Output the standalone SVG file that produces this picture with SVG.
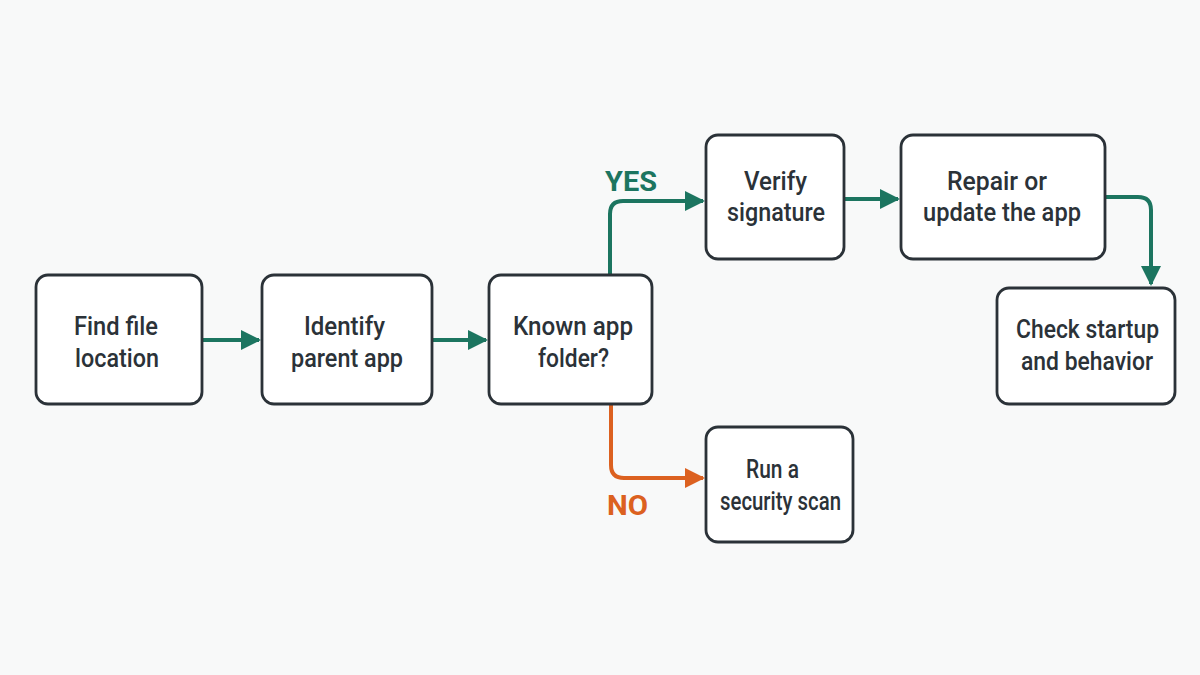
<svg xmlns="http://www.w3.org/2000/svg" width="1200" height="675" viewBox="0 0 1200 675">
<style>
.box{fill:#ffffff;stroke:#2b3238;stroke-width:2.8}
.t{font-family:Roboto,"Liberation Sans",sans-serif;font-weight:500;font-size:26px;fill:#2b3238;text-anchor:middle}
.g{fill:none;stroke:#1c7560;stroke-width:4}
.o{fill:none;stroke:#dc6120;stroke-width:4}
.lbl{font-family:Roboto,"Liberation Sans",sans-serif;font-weight:700;font-size:28px;text-anchor:middle}
</style>
<defs>
<marker id="ag" viewBox="0 0 10 10" refX="9" refY="5" markerWidth="5" markerHeight="5" markerUnits="strokeWidth" orient="auto"><path d="M0,0 L10,5 L0,10 Z" fill="#1c7560"/></marker>
<marker id="ao" viewBox="0 0 10 10" refX="9" refY="5" markerWidth="5" markerHeight="5" markerUnits="strokeWidth" orient="auto"><path d="M0,0 L10,5 L0,10 Z" fill="#dc6120"/></marker>
</defs>
<rect width="1200" height="675" fill="#f8f9f9"/>
<g id="connectors">
<path class="g" d="M202,340 H259" marker-end="url(#ag)"/>
<path class="g" d="M432,340 H486" marker-end="url(#ag)"/>
<path class="g" d="M610,274 V214 Q610,201 623,201 H703" marker-end="url(#ag)"/>
<path class="g" d="M844,199 H898" marker-end="url(#ag)"/>
<path class="g" d="M1105,197 H1138 Q1151,197 1151,210 V284" marker-end="url(#ag)"/>
<path class="o" d="M611,404 V465 Q611,478 624,478 H703" marker-end="url(#ao)"/>
<text class="lbl" x="631" y="191" fill="#1c7560" textLength="52" lengthAdjust="spacingAndGlyphs">YES</text>
<text class="lbl" x="627.5" y="515" fill="#dc6120" textLength="41" lengthAdjust="spacingAndGlyphs">NO</text>
</g>
<g id="find"><rect class="box" x="36" y="275" width="166" height="129" rx="12"/><text class="t" x="116" y="335" textLength="84" lengthAdjust="spacingAndGlyphs">Find file</text><text class="t" x="117" y="367" textLength="84" lengthAdjust="spacingAndGlyphs">location</text></g>
<g id="identify"><rect class="box" x="262" y="275" width="170" height="129" rx="12"/><text class="t" x="344.5" y="335" textLength="81" lengthAdjust="spacingAndGlyphs">Identify</text><text class="t" x="347" y="367" textLength="112" lengthAdjust="spacingAndGlyphs">parent app</text></g>
<g id="known"><rect class="box" x="489" y="275" width="163" height="129" rx="12"/><text class="t" x="573" y="335" textLength="120" lengthAdjust="spacingAndGlyphs">Known app</text><text class="t" x="573.5" y="367" textLength="71" lengthAdjust="spacingAndGlyphs">folder?</text></g>
<g id="verify"><rect class="box" x="706" y="135" width="138" height="124" rx="12"/><text class="t" x="775.5" y="190" textLength="63" lengthAdjust="spacingAndGlyphs">Verify</text><text class="t" x="776" y="221" textLength="98" lengthAdjust="spacingAndGlyphs">signature</text></g>
<g id="repair"><rect class="box" x="901" y="135" width="204" height="124" rx="12"/><text class="t" x="997" y="190" textLength="100" lengthAdjust="spacingAndGlyphs">Repair or</text><text class="t" x="1002" y="221" textLength="158" lengthAdjust="spacingAndGlyphs">update the app</text></g>
<g id="check"><rect class="box" x="997" y="288" width="178" height="116" rx="12"/><text class="t" x="1087.5" y="338" textLength="143" lengthAdjust="spacingAndGlyphs">Check startup</text><text class="t" x="1087" y="370" textLength="132" lengthAdjust="spacingAndGlyphs">and behavior</text></g>
<g id="scan"><rect class="box" x="706" y="427" width="147" height="115" rx="12"/><text class="t" x="772.5" y="478" textLength="53" lengthAdjust="spacingAndGlyphs">Run a</text><text class="t" x="780.5" y="510" textLength="121" lengthAdjust="spacingAndGlyphs">security scan</text></g>
</svg>
